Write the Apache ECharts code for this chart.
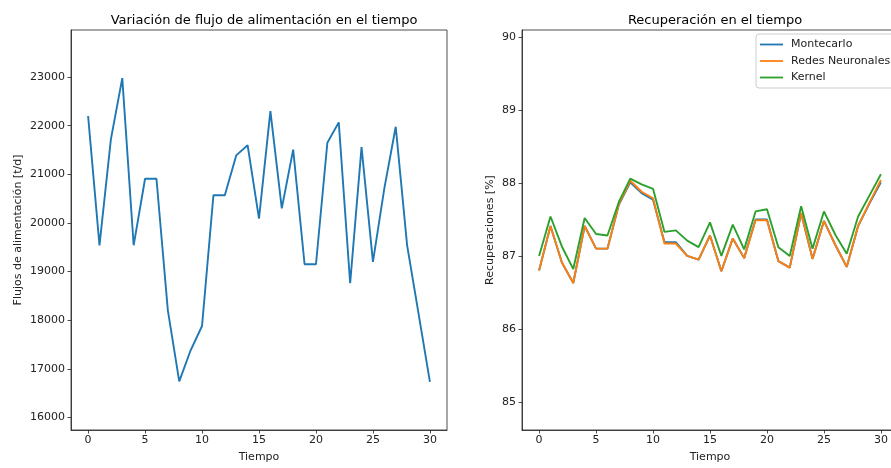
<!DOCTYPE html>
<html><head><meta charset="utf-8">
<script src="https://cdn.jsdelivr.net/npm/echarts@6/dist/echarts.min.js"></script>
<style>html,body{margin:0;padding:0;background:#fff}#c{width:891px;height:468px}</style>
</head><body><div id="c"></div>
<script>
const tiempo = [0,1,2,3,4,5,6,7,8,9,10,11,12,13,14,15,16,17,18,19,20,21,22,23,24,25,26,27,28,29,30];
const flujo = [22200,19540,21720,22980,19540,20910,20910,18200,16740,17380,17880,20570,20570,21390,21600,20090,22300,20300,21510,19150,19150,21650,22070,18760,21560,19200,20710,21980,19540,18140,16730];
const montecarlo = [86.80,87.41,86.91,86.63,87.41,87.10,87.10,87.70,88.01,87.86,87.77,87.19,87.19,87.00,86.95,87.28,86.79,87.24,86.97,87.50,87.50,86.93,86.84,87.58,86.96,87.48,87.15,86.85,87.41,87.72,88.01];
const redes = [86.80,87.41,86.91,86.63,87.41,87.10,87.10,87.71,88.03,87.88,87.79,87.17,87.17,87.00,86.95,87.28,86.79,87.24,86.97,87.49,87.49,86.93,86.84,87.59,86.96,87.48,87.15,86.85,87.41,87.73,88.04];
const kernel = [87.00,87.54,87.13,86.82,87.52,87.30,87.28,87.74,88.06,87.98,87.92,87.33,87.35,87.21,87.12,87.46,87.00,87.43,87.09,87.61,87.64,87.12,87.00,87.68,87.10,87.61,87.29,87.03,87.54,87.83,88.12];
const xTicks = [0,5,10,15,20,25,30];
const yTicksL = [16000,17000,18000,19000,20000,21000,22000,23000];
const yTicksR = [85,86,87,88,89,90];

const pair = (ys) => tiempo.map((t,i)=>[t, ys[i]]);
const F = 'DejaVu Sans';
const txt = {color:'#222', fontFamily:F, fontSize:11};
const plain = v => String(v);
function xAx(idx){
  return {gridIndex:idx, type:'value', min:-1.5, max:31.5, name:'Tiempo', nameLocation:'middle', nameGap:22,
    nameTextStyle:{...txt},
    axisLine:{show:true, onZero:false, lineStyle:{color:'#222', width:0.8}},
    axisTick:{show:true, length:3.5, lineStyle:{color:'#222', width:0.8}, customValues:xTicks},
    axisLabel:{...txt, margin:5, customValues:xTicks, formatter:plain},
    splitLine:{show:false}};
}
function yAx(idx, mn, mx, ticks, name, gap){
  return {gridIndex:idx, type:'value', min:mn, max:mx, name:name, nameLocation:'middle', nameGap:gap,
    nameTextStyle:{...txt},
    axisLine:{show:true, onZero:false, lineStyle:{color:'#222', width:0.8}},
    axisTick:{show:true, length:3.5, lineStyle:{color:'#222', width:0.8}, customValues:ticks},
    axisLabel:{...txt, margin:6, customValues:ticks, formatter:plain},
    splitLine:{show:false}};
}
const chart = echarts.init(document.getElementById('c'), null, {renderer:'canvas'});
chart.setOption({
  animation:false,
  backgroundColor:'#fff',
  title:[
    {text:'Variación de flujo de alimentación en el tiempo', left:259, top:9, textAlign:'center',
     textStyle:{fontFamily:F, fontSize:13, fontWeight:'normal', color:'#000'}},
    {text:'Recuperación en el tiempo', left:710, top:9, textAlign:'center',
     textStyle:{fontFamily:F, fontSize:13, fontWeight:'normal', color:'#000'}}
  ],
  grid:[
    {left:71, width:376, top:30, height:400, outerBoundsMode:'none', containLabel:false, show:true, borderColor:'#222', borderWidth:0.8, backgroundColor:'transparent'},
    {left:522, width:376, top:30, height:400, outerBoundsMode:'none', containLabel:false, show:true, borderColor:'#222', borderWidth:0.8, backgroundColor:'transparent'}
  ],
  xAxis:[xAx(0), xAx(1)],
  yAxis:[
    yAx(0, 15740, 23970, yTicksL, 'Flujos de alimentación [t/d]', 47),
    yAx(1, 84.615, 90.096, yTicksR, 'Recuperaciones [%]', 26)
  ],
  legend:{
    data:['Montecarlo','Redes Neuronales','Kernel'],
    orient:'vertical', left:756, top:34, padding:[4,4,4,4],
    borderColor:'#ccc', borderWidth:1, borderRadius:3, backgroundColor:'rgba(255,255,255,0.8)',
    icon:'rect', itemWidth:23, itemHeight:1.8, itemGap:3.5,
    textStyle:{...txt, lineHeight:13, padding:[0,0,0,3]}
  },
  series:[
    {type:'line', name:'Flujo', xAxisIndex:0, yAxisIndex:0, data:pair(flujo), showSymbol:false, symbol:'none',
     lineStyle:{color:'#1f77b4', width:1.9}, itemStyle:{color:'#1f77b4'}},
    {type:'line', name:'Montecarlo', xAxisIndex:1, yAxisIndex:1, data:pair(montecarlo), showSymbol:false, symbol:'none',
     lineStyle:{color:'#1f77b4', width:1.9}, itemStyle:{color:'#1f77b4'}},
    {type:'line', name:'Redes Neuronales', xAxisIndex:1, yAxisIndex:1, data:pair(redes), showSymbol:false, symbol:'none',
     lineStyle:{color:'#ff7f0e', width:1.9}, itemStyle:{color:'#ff7f0e'}},
    {type:'line', name:'Kernel', xAxisIndex:1, yAxisIndex:1, data:pair(kernel), showSymbol:false, symbol:'none',
     lineStyle:{color:'#2ca02c', width:1.9}, itemStyle:{color:'#2ca02c'}}
  ]
});
</script></body></html>
